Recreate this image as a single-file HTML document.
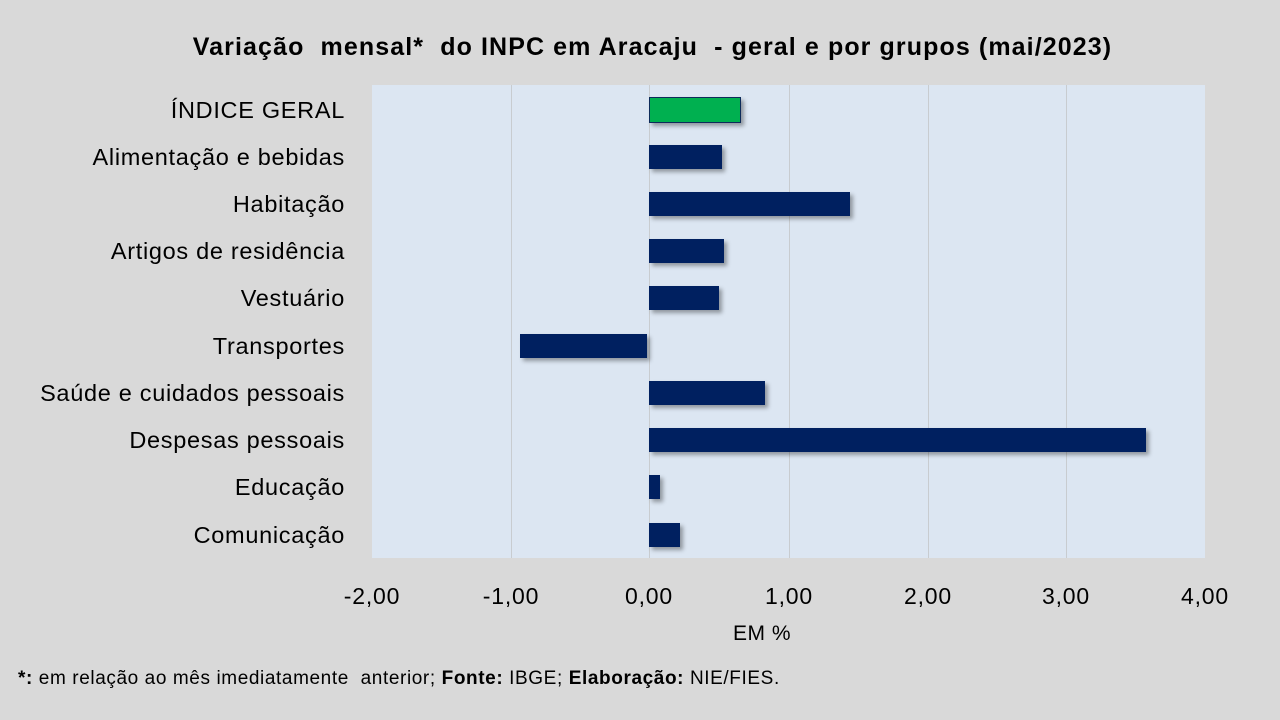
<!DOCTYPE html>
<html><head><meta charset="utf-8"><style>
body{margin:0;width:1280px;height:720px;background:#d9d9d9;position:relative;overflow:hidden;font-family:"Liberation Sans",sans-serif;color:#000}
.a{position:absolute}
.plot{left:372px;top:85px;width:833px;height:473px;background:#dce6f2}
.g{top:85px;height:473px;width:1px;background:#c8ccd0}
.lab{right:935px;font-size:23.5px;letter-spacing:0.7px;white-space:nowrap;line-height:24px}
.bar{height:24px;background:#002060;box-shadow:3px 3px 4px rgba(0,0,0,0.35)}
.tk{top:583px;font-size:23px;letter-spacing:0.8px;width:100px;text-align:center;margin-left:-50px}
</style></head><body>
<div class="a" style="left:0;width:1305px;top:33px;text-align:center;font-size:25px;letter-spacing:1.1px;font-weight:bold">Variação&nbsp; mensal*&nbsp; do INPC em Aracaju&nbsp; - geral e por grupos (mai/2023)</div>
<div class="a plot"></div>
<div class="a g" style="left:511px"></div>
<div class="a g" style="left:649px"></div>
<div class="a g" style="left:789px"></div>
<div class="a g" style="left:928px"></div>
<div class="a g" style="left:1066px"></div>
<div class="a lab" style="top:98px">ÍNDICE GERAL</div>
<div class="a lab" style="top:145px">Alimentação e bebidas</div>
<div class="a lab" style="top:192px">Habitação</div>
<div class="a lab" style="top:239px">Artigos de residência</div>
<div class="a lab" style="top:286px">Vestuário</div>
<div class="a lab" style="top:334px">Transportes</div>
<div class="a lab" style="top:381px">Saúde e cuidados pessoais</div>
<div class="a lab" style="top:428px">Despesas pessoais</div>
<div class="a lab" style="top:475px">Educação</div>
<div class="a lab" style="top:523px">Comunicação</div>
<div class="a bar" style="left:649px;top:97px;width:90px;background:#00b050;border:1px solid #0d2b5a"></div>
<div class="a bar" style="left:649px;top:145px;width:73px"></div>
<div class="a bar" style="left:649px;top:192px;width:201px"></div>
<div class="a bar" style="left:649px;top:239px;width:75px"></div>
<div class="a bar" style="left:649px;top:286px;width:70px"></div>
<div class="a bar" style="left:520px;top:334px;width:127px"></div>
<div class="a bar" style="left:649px;top:381px;width:116px"></div>
<div class="a bar" style="left:649px;top:428px;width:497px"></div>
<div class="a bar" style="left:649px;top:475px;width:11px"></div>
<div class="a bar" style="left:649px;top:523px;width:31px"></div>
<div class="a tk" style="left:372px">-2,00</div>
<div class="a tk" style="left:511px">-1,00</div>
<div class="a tk" style="left:649px">0,00</div>
<div class="a tk" style="left:789px">1,00</div>
<div class="a tk" style="left:928px">2,00</div>
<div class="a tk" style="left:1066px">3,00</div>
<div class="a tk" style="left:1205px">4,00</div>
<div class="a" style="left:733px;top:622px;font-size:21px;letter-spacing:0.5px">EM %</div>
<div class="a" style="left:18px;top:668px;font-size:19px;letter-spacing:0.6px"><b>*:</b> em relação ao mês imediatamente&nbsp; anterior; <b>Fonte:</b> IBGE; <b>Elaboração:</b> NIE/FIES.</div>
</body></html>
